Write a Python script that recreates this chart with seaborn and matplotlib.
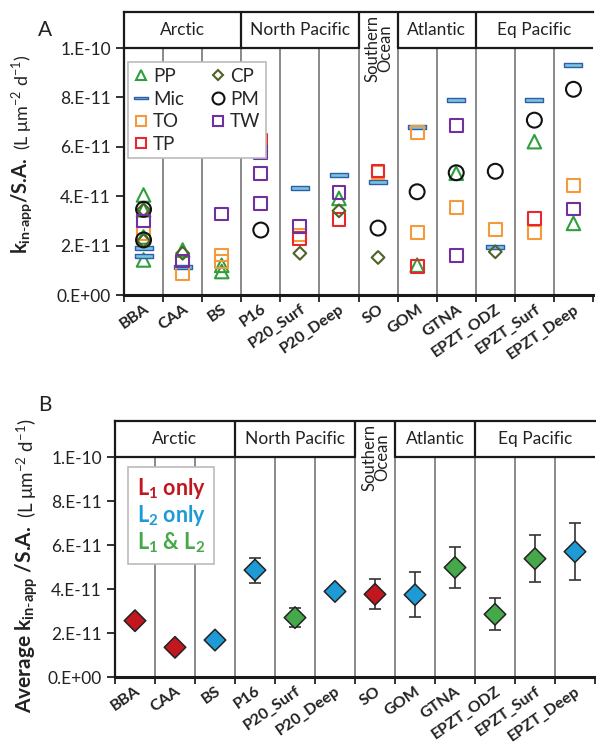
import numpy as np
import pandas as pd
import matplotlib
matplotlib.use('Agg')
import matplotlib.pyplot as plt
import seaborn as sns
from matplotlib.lines import Line2D
from matplotlib.ticker import FuncFormatter, FixedLocator

sns.set_theme(style="white")
plt.rcParams['font.family'] = ['Lato', 'DejaVu Sans']
plt.rcParams['mathtext.fontset'] = 'custom'
plt.rcParams['mathtext.rm'] = 'Lato'
plt.rcParams['mathtext.bf'] = 'Lato:bold'

# ---------------------------------------------------------------------------
# Data
# ---------------------------------------------------------------------------
SITES = ["BBA", "CAA", "BS", "P16", "P20_Surf", "P20_Deep", "SO",
         "GOM", "GTNA", "EPZT_ODZ", "EPZT_Surf", "EPZT_Deep"]
REGIONS = ["Arctic", "North Pacific", "Southern\nOcean", "Atlantic", "Eq Pacific"]
REGION_SIZES = [3, 3, 1, 2, 3]

# Panel A: individual rate constants (L um^-2 d^-1), units of 1e-11
pp_site = ["BBA", "BBA", "BBA", "BBA", "CAA", "BS", "BS", "P20_Deep", "GOM",
           "GTNA", "EPZT_Surf", "EPZT_Deep"]
pp_val = [4.05, 3.45, 2.35, 1.42, 1.82, 1.2, 0.95, 3.91, 1.21, 4.93, 6.21, 2.9]

mic_site = ["BBA", "BBA", "CAA", "P20_Surf", "P20_Deep", "SO", "GOM", "GTNA",
            "EPZT_ODZ", "EPZT_Surf", "EPZT_Deep"]
mic_val = [1.89, 1.58, 1.15, 4.32, 4.86, 4.57, 6.79, 7.89, 1.96, 7.89, 9.31]

to_site = ["BBA", "CAA", "BS", "BS", "P20_Surf", "SO", "GOM", "GOM", "GTNA",
           "EPZT_ODZ", "EPZT_Surf", "EPZT_Deep"]
to_val = [2.5, 0.88, 1.62, 1.35, 2.43, 4.95, 6.57, 2.52, 3.54, 2.66, 2.54, 4.45]

tp_site = ["P16", "P20_Surf", "P20_Deep", "SO", "GOM", "EPZT_Surf"]
tp_val = [6.25, 2.29, 3.06, 5.02, 1.15, 3.09]

cp_site = ["BBA", "BBA", "CAA", "P16", "P20_Surf", "P20_Deep", "SO", "EPZT_ODZ"]
cp_val = [3.45, 2.2, 1.69, 5.8, 1.69, 3.41, 1.52, 1.75]

pm_site = ["BBA", "BBA", "P16", "SO", "GOM", "GTNA", "EPZT_ODZ", "EPZT_Surf",
           "EPZT_Deep"]
pm_val = [3.47, 2.23, 2.63, 2.71, 4.18, 4.95, 5.01, 7.08, 8.33]

tw_site = ["BBA", "CAA", "BS", "P16", "P16", "P16", "P20_Surf", "P20_Deep",
           "GTNA", "GTNA", "EPZT_Deep"]
tw_val = [3.0, 1.38, 3.28, 5.76, 4.93, 3.71, 2.79, 4.14, 6.87, 1.61, 3.48]

# Panel B: site averages with error range, units of 1e-11
avg_val = [2.56, 1.35, 1.68, 4.86, 2.70, 3.89, 3.76, 3.74, 4.98, 2.85, 5.38, 5.70]
avg_lo = [np.nan, np.nan, np.nan, 4.29, 2.29, np.nan, 3.08, 2.71, 4.05, 2.12, 4.30, 4.41]
avg_hi = [np.nan, np.nan, np.nan, 5.42, 3.12, np.nan, 4.44, 4.79, 5.89, 3.61, 6.47, 7.01]
avg_type = ["L1", "L1", "L2", "L2", "L12", "L2", "L1", "L2", "L12", "L12", "L12", "L2"]

SCALE = 1e-11

SERIES = [
    ("PP", pp_site, pp_val, '^', 95, 'none', '#2e9e3e'),
    ("Mic", mic_site, mic_val,
     [(-1, -0.22), (1, -0.22), (1, 0.22), (-1, 0.22), (-1, -0.22)], 170, '#7cc3df', '#2f5ea8'),
    ("TO", to_site, to_val, 's', 85, 'none', '#f59a3c'),
    ("TP", tp_site, tp_val, 's', 85, 'none', '#e8282e'),
    ("CP", cp_site, cp_val, 'D', 42, 'none', '#4f6228'),
    ("PM", pm_site, pm_val, 'o', 115, 'none', '#111111'),
    ("TW", tw_site, tw_val, 's', 85, 'none', '#7030a0'),
]
TYPE_COLORS = {"L1": "#c3171f", "L2": "#1e9bd7", "L12": "#45a94a"}


def sci_fmt(v, _pos=None):
    if abs(v) < 1e-20:
        return "0.E+00"
    e = int(np.floor(np.log10(v) + 1e-9))
    m = int(round(v / 10 ** e))
    return f"{m}.E{e:+03d}"


def _frame(ax, top):
    n = len(SITES)
    ax.set_xlim(-0.5, n - 0.5)
    ax.set_ylim(0, top)
    # category separators inside plot
    for k in range(1, n):
        ax.plot([k - 0.5, k - 0.5], [0, 10 * SCALE], color='#808080', lw=1.3, zorder=1)
    # header boxes
    start = 0
    for name, size in zip(REGIONS, REGION_SIZES):
        if start > 0:
            ax.plot([start - 0.5, start - 0.5], [10 * SCALE, top], color='#1a1a1a', lw=1.6,
                    zorder=4)
        cx = start + (size - 1) / 2
        cy = (10 * SCALE + top) / 2
        if '\n' in name:
            # this header runs down into the plot, no line under it
            ax.text(cx + 0.02, top - 0.12 * SCALE, name, rotation=90, ha='center', va='top',
                    fontsize=12, linespacing=0.8, color='#222222')
        else:
            ax.plot([start - 0.5, start + size - 0.5], [10 * SCALE, 10 * SCALE],
                    color='#1a1a1a', lw=1.6, zorder=4)
            ax.text(cx, cy, name, ha='center', va='center', fontsize=12.5, color='#222222')
        start += size

    ax.yaxis.set_major_locator(FixedLocator(np.arange(0, 10.5, 2) * SCALE))
    ax.yaxis.set_major_formatter(FuncFormatter(sci_fmt))
    ax.set_xticks(range(n))
    ax.set_xticklabels(SITES, rotation=35, ha='right', rotation_mode='anchor',
                       fontweight='bold', fontsize=11.5)
    ax.xaxis.set_minor_locator(FixedLocator(np.arange(-0.5, n, 1.0)))
    ax.tick_params(axis='x', which='major', length=0, pad=5, colors='#222222')
    ax.tick_params(axis='x', which='minor', length=5, width=1.3, direction='out',
                   color='#222222', bottom=True)
    ax.tick_params(axis='y', which='major', length=6, width=1.3, direction='out',
                   left=True, labelsize=12.5, colors='#222222')
    for side in ['left', 'top', 'bottom']:
        ax.spines[side].set_color('#1a1a1a')
        ax.spines[side].set_linewidth(1.6)
    ax.spines['bottom'].set_linewidth(2.2)
    ax.spines['right'].set_visible(False)
    ax.set_xlabel('')
    ax.set_ylabel('')


def _stacked_ylabel(fig, x, y_bottom, bold_txt, plain_txt, bold_size, plain_size):
    t1 = fig.text(x, y_bottom, bold_txt, rotation=90, ha='center', va='bottom',
                  fontsize=bold_size, fontweight='bold', color='#222222')
    r = fig.canvas.get_renderer()
    bb = t1.get_window_extent(renderer=r)
    y_top = (bb.y1 + 8) / fig.bbox.height
    fig.text(x, y_top, plain_txt, rotation=90, ha='center', va='bottom',
             fontsize=plain_size, color='#222222')


fig = plt.figure(figsize=(5.96, 7.44), dpi=100)
axA = fig.add_axes([124 / 596, 1 - 295 / 744, 469 / 596, 283 / 744])
axB = fig.add_axes([115 / 596, 1 - 677 / 744, 480 / 596, 256 / 744])

# ---------------------------------------------------------------------------
# Panel A
# ---------------------------------------------------------------------------
pos = {s: i for i, s in enumerate(SITES)}
handles = []
for name, sites, vals, marker, size, face, edge in SERIES:
    df = pd.DataFrame({'x': [pos[s] for s in sites], 'y': np.array(vals) * SCALE})
    sns.scatterplot(data=df, x='x', y='y', marker=marker, s=size, facecolor=face,
                    edgecolor=edge, linewidth=1.5 if face == 'none' else 1.0,
                    ax=axA, zorder=3, legend=False)
    handles.append(Line2D([], [], linestyle='none', marker=marker,
                          markersize=np.sqrt(size) * (0.8 if name != 'Mic' else 0.75),
                          markerfacecolor=face, markeredgecolor=edge,
                          markeredgewidth=1.5 if face == 'none' else 1.0, label=name))
_frame(axA, 11.46 * SCALE)
legA = axA.legend(handles=handles, ncol=2, loc='upper left', bbox_to_anchor=(0.008, 0.822),
                  frameon=True, fancybox=False, edgecolor='#bbbbbb', framealpha=1,
                  fontsize=13.5, handlelength=0.8, handletextpad=0.25, columnspacing=1.4,
                  labelspacing=0.3, borderpad=0.3, borderaxespad=0)
legA.get_frame().set_linewidth(1.2)
legA.set_zorder(5)

# ---------------------------------------------------------------------------
# Panel B
# ---------------------------------------------------------------------------
dfB = pd.DataFrame({'x': range(len(SITES)), 'y': np.array(avg_val) * SCALE,
                    'lo': np.array(avg_lo) * SCALE, 'hi': np.array(avg_hi) * SCALE,
                    'type': avg_type})
err = dfB.dropna()
axB.errorbar(err['x'], err['y'], yerr=[err['y'] - err['lo'], err['hi'] - err['y']],
             fmt='none', ecolor='#333333', elinewidth=1.2, capsize=4, capthick=1.2, zorder=2)
sns.scatterplot(data=dfB, x='x', y='y', hue='type', palette=TYPE_COLORS, marker='D',
                s=120, edgecolor='#222222', linewidth=1.1, ax=axB, zorder=3, legend=False)
_frame(axB, 11.64 * SCALE)
lab = [r"L$_{\mathbf{1}}$ only", r"L$_{\mathbf{2}}$ only", r"L$_{\mathbf{1}}$ & L$_{\mathbf{2}}$"]
hB = [Line2D([], [], linestyle='none', marker='none', label=t) for t in lab]
legB = axB.legend(handles=hB, loc='upper left', bbox_to_anchor=(0.027, 0.82),
                  frameon=True, fancybox=False, edgecolor='#bbbbbb', framealpha=1,
                  prop={'weight': 'bold', 'size': 15.5}, handlelength=0, handletextpad=0,
                  labelcolor=list(TYPE_COLORS.values()), labelspacing=0.12,
                  borderpad=0.4, borderaxespad=0)
legB.get_frame().set_linewidth(1.2)
legB.set_zorder(5)

# ---------------------------------------------------------------------------
# Labels
# ---------------------------------------------------------------------------
fig.text(45 / 596, 1 - 30 / 744, "A", fontsize=15, ha='center', va='center', color='#222222')
fig.text(45 / 596, 1 - 405 / 744, "B", fontsize=15, ha='center', va='center', color='#222222')

_stacked_ylabel(fig, 22 / 596, 1 - 254 / 744, r"k$_{\mathbf{in\text{-}app}}$/S.A.",
                r"(L $\mathregular{\mu}$m$^{-2}$ d$^{-1}$)", 14.5, 13)
_stacked_ylabel(fig, 27 / 596, 1 - 713 / 744, r"Average k$_{\mathbf{in\text{-}app}}$ /S.A.",
                r"(L $\mathregular{\mu}$m$^{-2}$ d$^{-1}$)", 15, 13.5)

fig.savefig("out.png", dpi=100)
